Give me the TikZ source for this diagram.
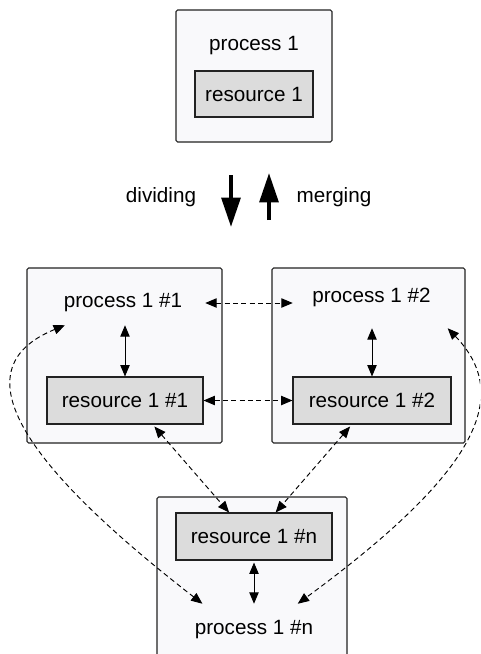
\documentclass[tikz,border=0pt]{standalone}
\usepackage{fontspec}
\setmainfont{Liberation Sans}
\usetikzlibrary{arrows.meta}
\definecolor{outerfill}{HTML}{F9F9FB}
\definecolor{innerfill}{HTML}{DCDCDC}
\definecolor{edge}{HTML}{222222}
\tikzset{
  outerbox/.style={draw=edge, fill=outerfill, line width=0.8pt, rounded corners=1.2pt, inner sep=0pt},
  resbox/.style={draw=edge, fill=innerfill, line width=0.8pt, inner sep=0pt, font=\fontsize{15.5}{18}\selectfont},
  ptext/.style={inner sep=0pt, font=\fontsize{15.5}{18}\selectfont},
  tip/.tip={Triangle[length=8.5pt,width=7pt]},
  dasharrow/.style={draw=black, line width=0.7pt, dash pattern=on 3.75pt off 2.5pt, tip-tip},
  solidarrow/.style={draw=black, line width=0.7pt, tip-tip},
  bigarrow/.style={draw=black, line width=3pt, -{Triangle[length=22pt,width=14pt]}}
}
\begin{document}
\begin{tikzpicture}[x=0.75pt,y=-0.75pt]
\useasboundingbox (0,0) rectangle (480,654);
\clip (0,0) rectangle (480,654);
\fill[white] (0,0) rectangle (480,654);

% top box
\node[outerbox, minimum width=117pt, minimum height=99pt] (top) at (254,76) {};
\node[ptext] (p0) at (254,46) {process 1};
\node[resbox, minimum width=88.5pt, minimum height=34.5pt] (r0) at (254,94) {resource 1};

% dividing / merging
\node[ptext] (div) at (161,197) {dividing};
\node[ptext] (mer) at (334,197) {merging};
\coordinate (dtop) at (231,175);
\coordinate (dbot) at (231,227);
\coordinate (ubot) at (269,220);
\coordinate (utop) at (269,173);
\draw[bigarrow] (dtop) -- (dbot);
\draw[bigarrow] (ubot) -- (utop);

% middle boxes
\node[outerbox, minimum width=146.25pt, minimum height=131.25pt] (left) at (124.5,355.5) {};
\node[outerbox, minimum width=144.75pt, minimum height=131.25pt] (right) at (368.5,355.5) {};
\node[ptext, minimum width=123pt, minimum height=33pt] (p1) at (123,303) {process 1 \#1};
\node[ptext, minimum width=117.75pt, minimum height=45.75pt] (p2) at (371.5,297.5) {process 1 \#2};
\node[resbox, minimum width=117pt, minimum height=35.25pt] (r1) at (125,400.5) {resource 1 \#1};
\node[resbox, minimum width=118.5pt, minimum height=35.25pt] (r2) at (372,400.5) {resource 1 \#2};

% bottom box
\node[outerbox, minimum width=142.5pt, minimum height=137.25pt] (bottom) at (252,588.5) {};
\node[resbox, minimum width=117pt, minimum height=35.25pt] (rn) at (254,536.5) {resource 1 \#n};
\node[ptext, minimum width=76.5pt, minimum height=39pt] (pn) at (254,630) {process 1 \#n};

% solid arrows
\draw[solidarrow] (r1.north |- p1.south) -- (r1.north);
\draw[solidarrow] (r2.north |- p2.south) -- (r2.north);
\draw[solidarrow, shorten <=1.5pt] (rn.south) -- (pn.north);

% dashed arrows
\draw[dasharrow] (p1.east) -- (p1.east -| p2.west);
\draw[dasharrow] (r1.east) -- (r2.west);
\draw[dasharrow, shorten <=2pt] (r1.-41) -- (rn.136);
\draw[dasharrow, shorten <=2pt] (r2.-130) -- (rn.48);
\draw[dasharrow] (p1.-159) .. controls (-45,370) and (30,470) .. (pn.153);
\draw[dasharrow] (p2.-22) .. controls (512,395) and (480,470) .. (pn.31);
\end{tikzpicture}
\end{document}
